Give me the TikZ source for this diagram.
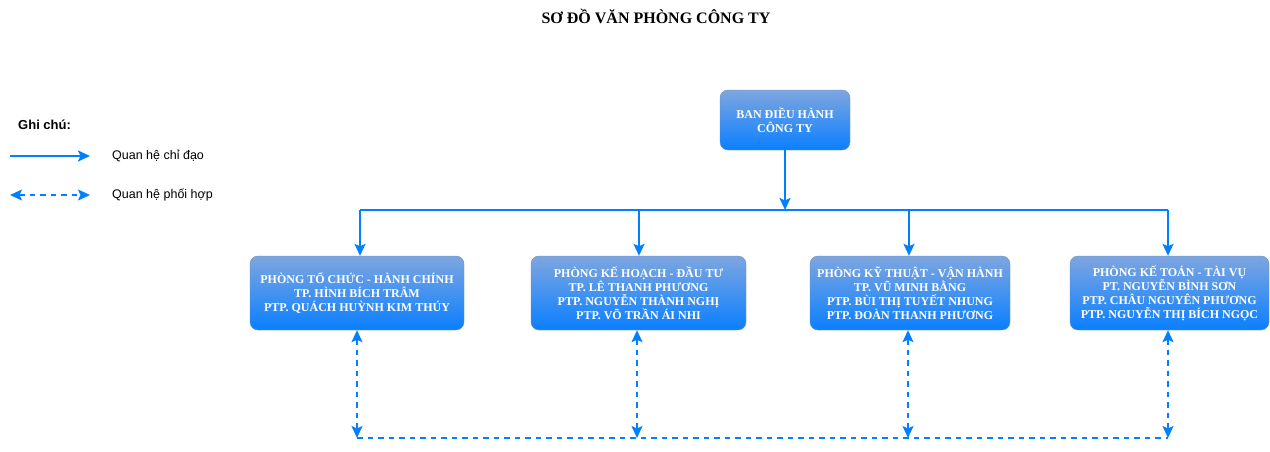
\documentclass[tikz,border=0pt]{standalone}
\usepackage{fontspec}
\setmainfont{Liberation Serif}
\setsansfont{Liberation Sans}
\usetikzlibrary{arrows.meta}
\definecolor{linkblue}{HTML}{007FFF}
\definecolor{boxtop}{HTML}{7EA6E0}
\definecolor{boxbot}{HTML}{0A7FFF}
\definecolor{boxline}{HTML}{6C8EBF}
\tikzset{office/.style={draw=boxline, top color=boxtop, bottom color=boxbot, rounded corners=8pt,
           text=white, font=\bfseries\fontsize{12}{14}\selectfont, align=center, inner sep=0pt},
         lead/.style={linkblue, line width=2pt, -{Stealth[length=12pt,width=11pt,inset=2.5pt]}},
         link/.style={linkblue, line width=1.6pt, dash pattern=on 5.5pt off 5pt,
           {Stealth[length=12pt,width=11pt,inset=2.5pt]}-{Stealth[length=12pt,width=11pt,inset=2.5pt]}},
         note/.style={font=\sffamily\fontsize{12.5}{14}\selectfont, anchor=west, inner sep=0pt}}

\begin{document}
\begin{tikzpicture}[x=1pt, y=-1pt]
   \useasboundingbox (0,0) rectangle (1270,451);
   \node[font=\bfseries\fontsize{16}{18}\selectfont] (title) at (656,16) {SƠ ĐỒ VĂN PHÒNG CÔNG TY};

   % legend
   \node[note, font=\sffamily\bfseries\fontsize{13}{15}\selectfont] (ghichu) at (18,125) {Ghi chú:};
   \coordinate (l1a) at (10,156);
   \coordinate (l1b) at (90,156);
   \coordinate (l2a) at (10,195);
   \coordinate (l2b) at (90,195);
   \node[note] (chidao) at (112,156) {Quan hệ chỉ đạo};
   \node[note] (phoihop) at (112,195) {Quan hệ phối hợp};
   \draw[lead] (l1a) -- (l1b);
   \draw[link] (l2a) -- (l2b);

   % boxes
   \node[office, minimum width=130pt, minimum height=60pt] (bdh) at (785,120) {BAN ĐIỀU HÀNH\\CÔNG TY};
   \node[office, minimum width=214pt, minimum height=74pt] (tchc) at (357,293)
        {PHÒNG TỔ CHỨC - HÀNH CHÍNH\\TP. HÌNH BÍCH TRÂM\\PTP. QUÁCH HUỲNH KIM THÚY};
   \node[office, minimum width=215pt, minimum height=74pt] (khdt) at (638.5,293)
        {PHÒNG KẾ HOẠCH - ĐẦU TƯ\\TP. LÊ THANH PHƯƠNG\\PTP. NGUYỄN THÀNH NGHỊ\\PTP. VÕ TRẦN ÁI NHI};
   \node[office, minimum width=200pt, minimum height=74pt] (ktvh) at (910,293)
        {PHÒNG KỸ THUẬT - VẬN HÀNH\\TP. VŨ MINH BẰNG\\PTP. BÙI THỊ TUYẾT NHUNG\\PTP. ĐOÀN THANH PHƯƠNG};
   \node[office, minimum width=199pt, minimum height=74pt] (kttv) at (1169.5,293)
        {PHÒNG KẾ TOÁN - TÀI VỤ\\PT. NGUYỄN BÌNH SƠN\\PTP. CHÂU NGUYÊN PHƯƠNG\\PTP. NGUYỄN THỊ BÍCH NGỌC};

   % chi dao
   \coordinate (bus) at (785,210);
   \coordinate (bus1) at (360,210);
   \coordinate (bus2) at (639,210);
   \coordinate (bus3) at (909,210);
   \coordinate (bus4) at (1168,210);
   \draw[linkblue, line width=2pt] (bus1) -- (bus4);
   \draw[lead] (bdh) -- (bus);
   \draw[lead] (bus1) -- (bus1 |- tchc.north);
   \draw[lead] (bus2) -- (bus2 |- khdt.north);
   \draw[lead] (bus3) -- (bus3 |- ktvh.north);
   \draw[lead] (bus4) -- (bus4 |- kttv.north);

   % phoi hop
   \coordinate (d1) at (357,438);
   \coordinate (d2) at (637,438);
   \coordinate (d3) at (908,438);
   \coordinate (d4) at (1168,438);
   \draw[linkblue, line width=1.6pt, dash pattern=on 5.5pt off 5pt] (d1) -- (d4);
   \draw[link] (d1 |- tchc.south) -- (d1);
   \draw[link] (d2 |- khdt.south) -- (d2);
   \draw[link] (d3 |- ktvh.south) -- (d3);
   \draw[link] (d4 |- kttv.south) -- (d4);
\end{tikzpicture}
\end{document}
